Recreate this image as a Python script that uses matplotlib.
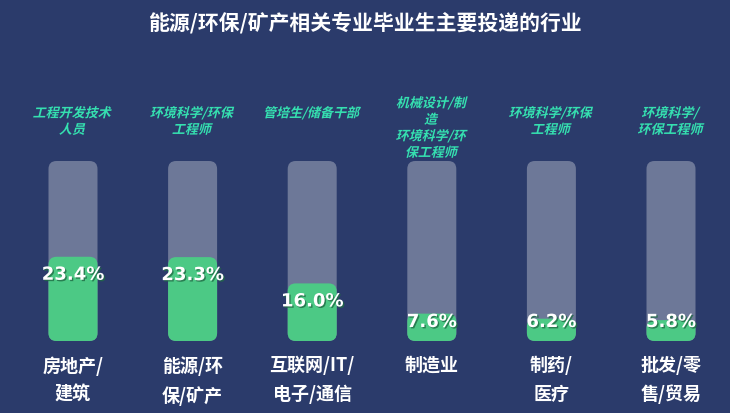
import matplotlib.pyplot as plt
import matplotlib.patheffects as pe
from matplotlib.patches import FancyBboxPatch, PathPatch
from matplotlib.textpath import TextPath
from matplotlib.font_manager import FontProperties
from matplotlib.transforms import Affine2D, IdentityTransform

plt.rcParams['font.family'] = ['Noto Sans CJK SC', 'DejaVu Sans']

# data
industries = ['房地产/\n建筑', '能源/环\n保/矿产', '互联网/IT/\n电子/通信', '制造业', '制药/\n医疗', '批发/零\n售/贸易']
shares = [23.4, 23.3, 16.0, 7.6, 6.2, 5.8]
top_jobs = ['工程开发技术\n人员', '环境科学/环保\n工程师', '管培生/储备干部',
            '机械设计/制\n造\n环境科学/环\n保工程师', '环境科学/环保\n工程师', '环境科学/\n环保工程师']
full_scale = 50

bg = '#2b3b6b'
track_c = '#6d7898'
bar_c = '#4cc985'
job_c = '#35e0b0'

W, H = 730, 414
fig = plt.figure(figsize=(W / 100, H / 100), dpi=100, facecolor=bg)
# bar area: y 342px (0%) to 162px (50%)
ax = fig.add_axes([13.2 / W, (H - 342) / H, 717.6 / W, 180 / H])
ax.set_facecolor(bg)
ax.set_xlim(-0.5, len(shares) - 0.5)
ax.set_ylim(0, full_scale)
ax.axis('off')

px_x = 119.6  # px per category
px_y = 180 / full_scale  # px per percent
bw = 49 / px_x
r = 8 / px_x
asp = (8 / px_y) / r

for i, v in enumerate(shares):
    ax.add_patch(FancyBboxPatch((i - bw / 2, 0), bw, full_scale,
                                boxstyle=f'round,pad=0,rounding_size={r}',
                                mutation_aspect=asp, fc=track_c, ec='none'))
    ax.add_patch(FancyBboxPatch((i - bw / 2, 0), bw, v,
                                boxstyle=f'round,pad=0,rounding_size={r}',
                                mutation_aspect=asp, fc=bar_c, ec='none'))
    # value label just under bar top, kept off the very bottom
    ly = max(v - 18 / px_y, 19 / px_y)
    ax.text(i, ly, f'{v:.1f}%', ha='center', va='center', color='white',
            fontsize=13, fontweight='bold', family='DejaVu Sans',
            path_effects=[pe.withSimplePatchShadow(offset=(1, -1), shadow_rgbFace='#1f6b45', alpha=0.8)])
    ax.text(i, -14 / px_y, industries[i], ha='center', va='top', color='white',
            fontsize=13, fontweight='bold', linespacing=1.62)

# italic job labels via skewed text paths
fig.canvas.draw()
fp = FontProperties(family='Noto Sans CJK SC', weight='bold')
size_px = 13
line_h = 16.5
for i, s in enumerate(top_jobs):
    lines = s.split('\n')
    top_px = min(105, 161 - len(lines) * line_h)
    cx = ax.transData.transform((i, 0))[0]
    for k, ln in enumerate(lines):
        tp = TextPath((0, 0), ln, size=size_px, prop=fp)
        ext = tp.get_extents()
        ycen = top_px + line_h * (k + 0.5)
        tr = (Affine2D().translate(-(ext.x0 + ext.x1) / 2, -size_px * 0.38)
              .skew_deg(14, 0).translate(cx, H - ycen))
        fig.add_artist(PathPatch(tr.transform_path(tp), fc=job_c, ec='none',
                                 transform=IdentityTransform()))

fig.text(0.5, 1 - 23 / H, '能源/环保/矿产相关专业毕业生主要投递的行业', ha='center', va='center',
         color='white', fontsize=15, fontweight='bold')

fig.savefig('out.png', dpi=100, facecolor=bg)
